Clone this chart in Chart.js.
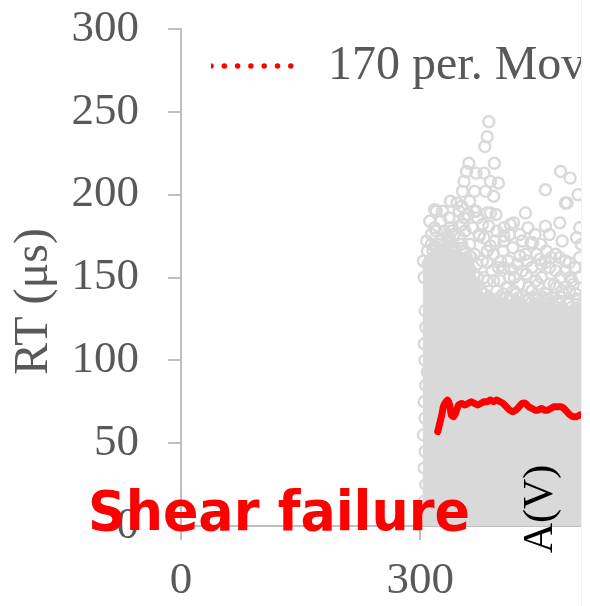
<!DOCTYPE html>
<html>
<head>
<meta charset="utf-8">
<script src="https://cdn.jsdelivr.net/npm/chart.js@4.4.1/dist/chart.umd.min.js"></script>
<style>
  html, body { margin: 0; padding: 0; background: #fff; overflow: hidden; }
  #wrap { width: 590px; height: 606px; }
</style>
</head>
<body>
<div id="wrap"><canvas id="myChart" width="590" height="606"></canvas></div>
<script>
// RT scatter with 170 period moving average (panel is cropped on the right)

const xTicks = [0, 300];
const yTicks = [0, 50, 100, 150, 200, 250, 300];

// upper edge of the solid grey core of the cloud
const coreX = [303, 310, 325, 340, 355, 365, 372, 380, 400, 420, 440, 460, 480, 500, 510];
const coreY = [155, 165, 168, 168, 165, 160, 148, 140, 138, 136, 135, 135, 132, 135, 135];

// single RT hits (x, RT)
const hits = [
  [386,244],[384,235],[381,229],[393,219],[361,219],[358,214],[355,208],[370,213],[380,213],[388,208],
  [398,207],[353,202],[368,202],[382,202],[392,199],[457,203],[476,214],[488,210],[484,195],[320,190],
  [318,191],[349,190],[355,186],[370,190],[384,189],[395,188],[432,189],[417,183],[405,180],[435,180],
  [457,181],[475,183],[337,180],[349,181],[386,181],[374,175],[335,175],[482,195],[439,171],[498,200],
  [500,180],[352,193],[368,190],[388,189],[413,182],[339,178],[353,182],[374,176],[396,178],[405,175],
  [425,176],[441,171],[451,170],[470,164],[482,160],[490,148],[487,142],[432,164],[450,161],[462,156],
  [318,169],[334,173],[352,170],[368,164],[384,159],[401,160],[414,155],[433,152],[445,148],[470,144],
  [392,148],[408,144],[376,142],[359,148],[429,139],[454,138],[475,134],[318,158],[315,148],[316,138],
  [318,128],[316,118],[316,108],[312,98],[309,93],[380,174],[388,169],[405,172],[425,163],[457,159],
  [475,162],[487,159],[462,146],[478,142],[405,156],[371,158],[384,148],[417,142],[445,134],[470,130],
  [401,134],[425,126],[454,118],[478,118],[312,160],[322,162],[330,165],[342,160],[350,158],[358,162],
  [326,155],[338,152],[348,150],[362,155],[372,150],[380,140],[392,136],[410,130],[420,135],[436,128],
  [448,125],[466,126],[484,124],[496,130],[398,126],[414,122],[428,120],[460,122],[490,120],[375,132],
  [388,128],[404,140],[440,142],[495,140],[500,150],[465,138],[452,150],[418,150],[326,140],[345,138],
  [360,130],[372,120],[306,5],[305,15],[307,25],[305,35],[306,45],[304,55],[306,65],[305,75],
  [307,85],[306,100],[305,110],[307,120],[306,130],
  [305,150],[310,158],[308,172],[314,176],[320,178],[326,184],[330,170],[336,186],[342,176],[344,166],
  [350,174],[356,178],[362,170],[366,180],[360,188],[346,195],[340,168],[332,160],[324,170],[316,166],
  [312,184],[362,196],[372,186],[378,182],[364,162],[354,166],[330,178],[318,180],[328,190],[338,196],
  [378,160],[384,166],[392,164],[398,156],[404,166],[410,160],[416,168],[422,158],[428,154],[434,160],
  [440,156],[446,164],[452,158],[458,166],[464,162],[470,154],[476,150],[482,154],[488,150],[494,156],
  [500,162],[380,150],[390,154],[400,148],[412,150],[424,146],[436,144],[448,146],[458,140],[468,146],
  [480,140],[492,146],[386,138],[396,142],[408,138],[420,140],[432,136],[444,138],[456,132],[466,134],
  [476,138],[486,134],[498,136],[502,170],[496,174],[478,172],[462,176],[444,176],[428,172],[412,176],
  [394,172],
  [376,136],[382,133],[388,137],[394,132],[400,138],[406,134],[412,137],[418,133],[424,138],[430,132],
  [436,137],[442,133],[448,138],[454,132],[460,137],[466,133],[472,136],[478,131],[484,135],[490,132],
  [496,137],[502,133],[304,160],[309,166],[314,170],[320,168],[326,172],[332,168],[338,171],[344,167],
  [350,170],[356,166],[362,163],[368,152],[371,145]
];

// 170 per. moving average
const maX = [322,324,327,329,331,334,337,339,342,345,348,352,356,360,364,368,372,376,380,384,388,392,396,400,404,408,412,416,420,424,428,432,436,440,444,448,452,456,460,464,468,472,476,480,484,488,492,496,500];
const maY = [57,61,67,72,74,76,73,67,66,69,73,74,73,74,75,74,73,74,75,75,76,75,76,75,74,72,70,69,70,72,74,74,72,71,70,70,71,70,70,71,72,72,72,71,69,67,66,66,67];

const serif = '"Liberation Serif", "Times New Roman", serif';
const grey = '#595959';
const axisGrey = '#bfbfbf';

// legend sits inside the plot: it gets no layout height and is moved after layout
const legendPlacer = {
  id: 'legendPlacer',
  afterLayout(chart) {
    const lg = chart.legend;
    lg.left = 211; lg.right = 590;
    lg.top = 42; lg.bottom = 110;
  }
};

const overlay = {
  id: 'overlay',
  afterDraw(chart) {
    const ctx = chart.ctx;
    ctx.save();
    // edge of the neighbouring panel
    ctx.fillStyle = '#ffffff';
    ctx.fillRect(581, 0, 9, 606);
    ctx.fillStyle = '#f0f0f0';
    ctx.fillRect(581, 0, 1, 606);
    ctx.translate(541, 509);
    ctx.rotate(-Math.PI / 2);
    ctx.font = '42px ' + serif;
    ctx.fillStyle = '#000';
    ctx.textAlign = 'center';
    ctx.textBaseline = 'middle';
    ctx.fillText('A(V)', 0, 0);
    ctx.restore();

    ctx.save();
    ctx.font = 'bold 55px "DejaVu Sans", Verdana, sans-serif';
    const w = ctx.measureText('Shear failure').width;
    ctx.translate(88, 530);
    ctx.scale(382 / w, 1);
    ctx.fillStyle = '#ff0000';
    ctx.textBaseline = 'alphabetic';
    ctx.fillText('Shear failure', 0, 0);
    ctx.restore();
  }
};

const chart = () => {
  const data = {
    datasets: [
      {
        type: 'line',
        label: '170 per. Mov. Avg. (RT (μs))',
        data: maX.map((x, i) => ({ x: x, y: maY[i] })),
        borderColor: '#ff0000',
        borderWidth: 7,
        borderJoinStyle: 'round',
        borderCapStyle: 'round',
        pointRadius: 0,
        tension: 0.2,
        order: 0
      },
      {
        label: 'RT (μs)',
        data: hits.map(p => ({ x: p[0], y: p[1] })),
        showLine: false,
        pointRadius: 5.5,
        borderWidth: 2.4,
        borderColor: '#d9d9d9',
        backgroundColor: 'rgba(0,0,0,0)',
        order: 1
      },
      {
        type: 'line',
        label: 'core',
        data: coreX.map((x, i) => ({ x: x, y: coreY[i] })),
        fill: 'origin',
        backgroundColor: '#d9d9d9',
        borderColor: '#d9d9d9',
        borderWidth: 0,
        pointRadius: 0,
        tension: 0,
        order: 2
      }
    ]
  };

  const config = {
    type: 'scatter',
    data: data,
    options: {
      responsive: false,
      animation: false,
      events: [],
      layout: { padding: { top: 29, right: 0, bottom: 0, left: 0 } },
      plugins: {
        tooltip: { enabled: false },
        legend: {
          position: 'top',
          align: 'start',
          fullSize: false,
          maxHeight: 0.001,
          labels: {
            color: grey,
            font: { family: serif, size: 48 },
            padding: 0,
            usePointStyle: true,
            pointStyleWidth: 93,
            generateLabels: (c) => Chart.defaults.plugins.legend.labels.generateLabels(c)
              .filter(it => it.datasetIndex === 0)
              .map(it => Object.assign(it, {
                pointStyle: 'line',
                lineDash: [0, 13.3],
                lineCap: 'round',
                lineWidth: 5.5,
                strokeStyle: '#ff0000',
                fillStyle: '#ff0000'
              }))
          }
        }
      },
      scales: {
        x: {
          type: 'linear',
          min: 0,
          max: 503,
          afterBuildTicks: s => { s.ticks = xTicks.map(v => ({ value: v })); },
          afterFit: s => { s.height = 80; s.paddingLeft = 0; s.paddingRight = 0; },
          grid: { drawOnChartArea: false, tickLength: 14, color: axisGrey, lineWidth: 2 },
          border: { color: axisGrey, width: 2 },
          ticks: { color: grey, font: { family: serif, size: 45 }, padding: 14 }
        },
        y: {
          min: 0,
          max: 300,
          afterBuildTicks: s => { s.ticks = yTicks.map(v => ({ value: v })); },
          afterFit: s => { s.width = 181; s.paddingTop = 0; s.paddingBottom = 0; },
          grid: { drawOnChartArea: false, tickLength: 13, color: axisGrey, lineWidth: 2 },
          border: { color: axisGrey, width: 2 },
          ticks: { color: grey, font: { family: serif, size: 45 }, padding: 29 },
          title: {
            display: true,
            text: 'RT (μs)\u00a0\u00a0\u00a0\u00a0',
            color: grey,
            font: { family: serif, size: 48 },
            padding: { top: 6, bottom: 0 }
          }
        }
      }
    },
    plugins: [legendPlacer, overlay]
  };

  const ctx = document.getElementById('myChart');
  new Chart(ctx, config);
};

chart();
</script>
</body>
</html>
